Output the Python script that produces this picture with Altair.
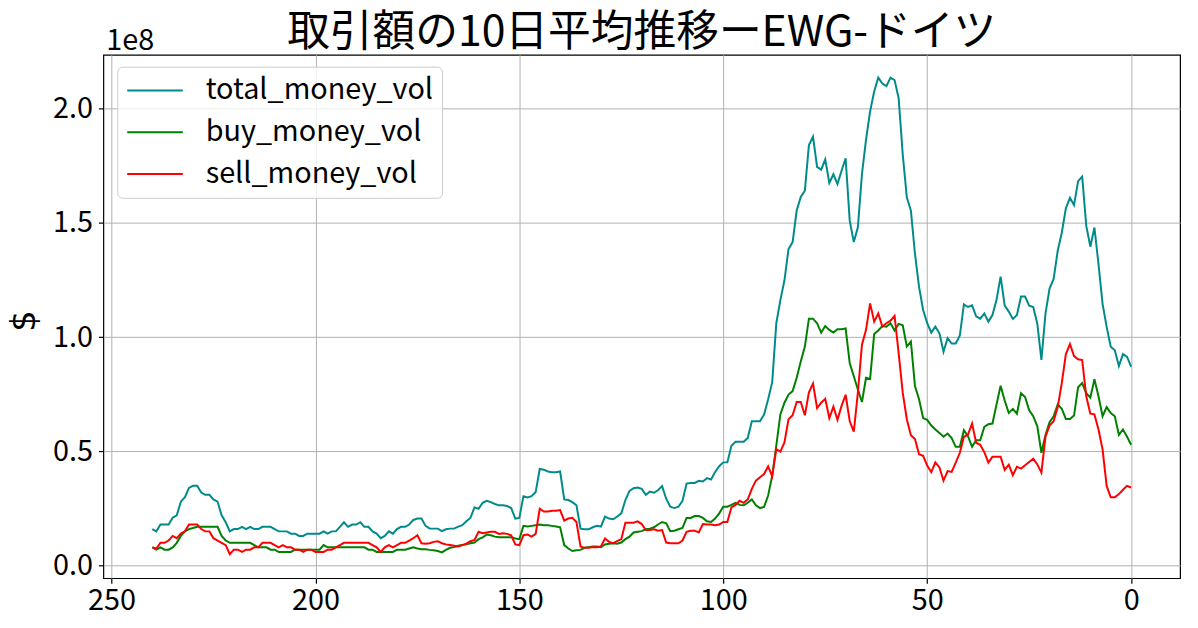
import altair as alt
import pandas as pd

FONT = "Noto Sans CJK JP"

days = list(range(240, -1, -1))

total = [
    .16, .15, .18, .18, .18, .21, .22, .28, .30, .34,
    .35, .35, .32, .31, .31, .29, .28, .22, .19, .15,
    .16, .16, .17, .16, .17, .16, .16, .17, .17, .17,
    .16, .15, .15, .15, .14, .14, .13, .13, .14, .14,
    .14, .14, .15, .14, .15, .15, .17, .19, .17, .18,
    .18, .19, .17, .17, .15, .14, .12, .13, .15, .14,
    .16, .17, .17, .18, .20, .206, .206, .174, .162, .162,
    .162, .151, .159, .162, .162, .171, .177, .194, .209, .255,
    .249, .275, .284, .278, .270, .264, .264, .261, .252, .206,
    .209, .304, .298, .304, .322, .423, .420, .412, .409, .409,
    .412, .290, .287, .278, .264, .162, .159, .159, .168, .174,
    .171, .215, .206, .203, .215, .229, .287, .327, .339, .342,
    .336, .310, .324, .319, .330, .348, .293, .258, .252, .258,
    .284, .359, .362, .362, .371, .368, .383, .377, .410, .435,
    .452, .452, .525, .542, .542, .542, .559, .632, .632, .632,
    .661, .728, .803, 1.061, 1.162, 1.249, 1.386, 1.416, 1.554, 1.614,
    1.641, 1.841, 1.878, 1.745, 1.733, 1.778, 1.675, 1.713, 1.670, 1.728,
    1.783, 1.510, 1.416, 1.481, 1.713, 1.865, 1.988, 2.075, 2.136, 2.110,
    2.099, 2.136, 2.125, 2.046, 1.800, 1.612, 1.554, 1.365, 1.220, 1.119,
    1.061, 1.020, 1.046, 1.017, 0.936, 0.996, 0.972, 0.972, 1.007, 1.143,
    1.132, 1.139, 1.091, 1.081, 1.103, 1.068, 1.097, 1.164, 1.265, 1.138,
    1.112, 1.080, 1.097, 1.178, 1.178, 1.138, 1.132, 1.059, 0.900, 1.103,
    1.213, 1.255, 1.378, 1.457, 1.564, 1.610, 1.578, 1.683, 1.703, 1.487,
    1.396, 1.480, 1.320, 1.146, 1.045, 0.958, 0.943, 0.874, 0.926, 0.914,
    0.871,
]

buy = [
    .08, .07, .08, .07, .07, .08, .10, .13, .15, .16,
    .165, .17, .17, .17, .17, .17, .17, .13, .11, .10,
    .10, .10, .10, .10, .10, .09, .08, .08, .08, .07,
    .07, .06, .06, .06, .06, .07, .07, .07, .07, .07,
    .07, .07, .09, .08, .08, .08, .08, .08, .08, .08,
    .08, .08, .08, .07, .07, .06, .06, .06, .06, .06,
    .07, .07, .07, .075, .08, .075, .072, .072, .069, .067,
    .064, .058, .069, .078, .081, .087, .090, .093, .098, .101,
    .116, .124, .136, .133, .127, .124, .124, .124, .124, .119,
    .116, .174, .171, .174, .177, .180, .177, .177, .174, .171,
    .168, .090, .075, .064, .067, .069, .078, .081, .084, .084,
    .081, .093, .096, .098, .096, .101, .116, .127, .145, .148,
    .151, .159, .162, .168, .180, .191, .185, .151, .153, .159,
    .165, .209, .209, .217, .217, .209, .194, .191, .206, .229,
    .258, .258, .266, .275, .266, .264, .275, .290, .264, .252,
    .257, .307, .394, .525, .662, .713, .749, .764, .822, .894,
    .959, 1.081, 1.081, 1.061, 1.020, 1.049, 1.032, 1.020, 1.035, 1.035,
    1.038, .887, .829, .771, .716, .822, .817, 1.014, 1.029, 1.049,
    1.046, 1.061, 1.029, 1.058, 1.052, .959, .981, .786, .728, .646,
    .638, .613, .596, .581, .564, .578, .558, .520, .520, .593,
    .567, .520, .549, .549, .607, .619, .622, .706, .787, .723,
    .668, .686, .665, .755, .738, .680, .654, .610, .494, .572,
    .628, .654, .706, .686, .642, .642, .657, .781, .799, .755,
    .735, .816, .741, .654, .694, .668, .654, .572, .596, .564,
    .529,
]

sell = [
    .08, .075, .10, .10, .11, .13, .12, .14, .15, .18,
    .18, .18, .16, .15, .15, .12, .11, .10, .09, .05,
    .07, .07, .06, .07, .07, .08, .08, .10, .10, .10,
    .09, .08, .09, .08, .08, .07, .07, .06, .07, .07,
    .06, .06, .06, .07, .07, .08, .09, .10, .10, .10,
    .10, .10, .10, .10, .09, .08, .06, .08, .09, .08,
    .09, .10, .10, .11, .12, .133, .098, .096, .098, .104,
    .107, .098, .093, .090, .087, .084, .090, .096, .107, .113,
    .148, .142, .145, .148, .148, .139, .142, .139, .133, .093,
    .090, .133, .136, .127, .139, .249, .237, .237, .240, .240,
    .243, .197, .206, .209, .191, .084, .078, .078, .081, .081,
    .084, .119, .104, .098, .107, .116, .188, .188, .188, .194,
    .182, .156, .156, .159, .153, .156, .101, .098, .098, .098,
    .110, .148, .153, .153, .145, .182, .180, .180, .177, .180,
    .191, .191, .255, .266, .284, .275, .290, .336, .372, .387,
    .401, .435, .391, .510, .499, .539, .641, .658, .716, .716,
    .658, .759, .797, .690, .713, .730, .646, .696, .638, .699,
    .748, .633, .586, .757, .967, 1.032, 1.148, 1.068, 1.104, 1.046,
    1.061, 1.072, 1.093, .930, .757, .641, .571, .554, .488, .481,
    .438, .409, .452, .430, .372, .414, .410, .451, .494, .564,
    .574, .622, .538, .529, .497, .451, .477, .477, .477, .419,
    .442, .396, .433, .425, .439, .454, .468, .443, .407, .564,
    .613, .632, .694, .799, .926, .970, .917, .903, .900, .741,
    .665, .662, .596, .509, .349, .299, .299, .313, .332, .349,
    .342,
]

series_names = ["total_money_vol", "buy_money_vol", "sell_money_vol"]
series_colors = ["#008b8b", "#008000", "#ff0000"]
x_ticks = [0, 50, 100, 150, 200, 250]
y_ticks = [0.0, 0.5, 1.0, 1.5, 2.0]
title_text = "取引額の10日平均推移ーEWG-ドイツ"
y_title = "$"
exponent_text = "1e8"

frames = []
for name, vals in zip(series_names, [total, buy, sell]):
    frames.append(pd.DataFrame({"day": days[:len(vals)], "value": vals, "series": name}))
df = pd.concat(frames, ignore_index=True)

x_enc = alt.X(
    "day:Q",
    scale=alt.Scale(domain=[-12, 252], reverse=True, nice=False, zero=False),
    axis=alt.Axis(values=x_ticks, format="d", title=None, labelPadding=4),
)
y_enc = alt.Y(
    "value:Q",
    scale=alt.Scale(domain=[-0.055, 2.236], nice=False, zero=False),
    axis=alt.Axis(values=y_ticks, format=".1f", title=None, labelPadding=6),
)
color_enc = alt.Color(
    "series:N",
    scale=alt.Scale(domain=series_names, range=series_colors),
    legend=alt.Legend(
        title=None, orient="none", legendX=14, legendY=12,
        symbolType="stroke", symbolSize=3136, symbolStrokeWidth=2,
        clipHeight=30, rowPadding=12, labelOffset=22, padding=9,
        labelFont=FONT, labelFontSize=29, labelColor="black", labelLimit=500,
        strokeColor="#cccccc", fillColor="rgba(255,255,255,0.8)", cornerRadius=5,
    ),
)

layers = []
for name in series_names:
    layers.append(
        alt.Chart(df)
        .transform_filter(alt.datum.series == name)
        .mark_line(strokeWidth=2)
        .encode(x=x_enc, y=y_enc, color=color_enc)
    )

exp_label = alt.Chart(pd.DataFrame({"t": [exponent_text]})).mark_text(
    align="left", baseline="alphabetic", fontSize=29, font=FONT, color="black"
).encode(text="t:N", x=alt.value(3), y=alt.value(-5))

title_mark = alt.Chart(pd.DataFrame({"t": [title_text]})).mark_text(
    align="center", baseline="alphabetic", fontSize=43, font=FONT, color="black"
).encode(text="t:N", x=alt.value(542), y=alt.value(-9))

ytitle_mark = alt.Chart(pd.DataFrame({"t": [y_title]})).mark_text(
    align="center", baseline="middle", angle=270, fontSize=34,
    font="DejaVu Sans", color="black"
).encode(text="t:N", x=alt.value(-79), y=alt.value(268))

chart = (
    alt.layer(*layers, exp_label, title_mark, ytitle_mark)
    .properties(
        width=1084,
        height=527,
        autosize=alt.AutoSizeParams(type="none"),
        padding={"left": 96, "top": 45, "right": 10, "bottom": 40},
    )
    .configure_view(stroke="black", strokeWidth=1.2)
    .configure_axis(
        domain=False, tickColor="black", tickSize=5, tickWidth=1.2,
        labelFont=FONT, labelFontSize=29, labelColor="black",
        gridColor="#b0b0b0", gridWidth=1,
    )
)

chart.save("out.html", embed_options={"renderer": "svg", "actions": False})
